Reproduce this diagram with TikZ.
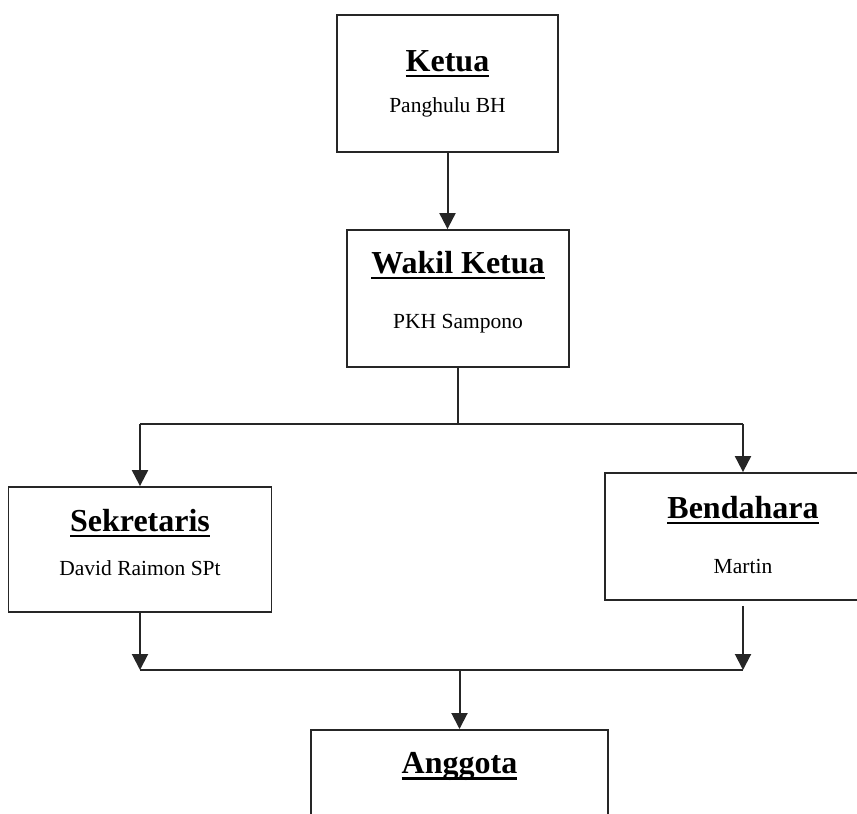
\documentclass[tikz,border=0pt]{standalone}
\usepackage{fontspec}
\setmainfont{Liberation Serif}
\usetikzlibrary{arrows.meta}

% judul jabatan: tebal dengan garis bawah
\newcommand{\judul}[1]{{\fontsize{32}{38}\selectfont\bfseries\setbox0\hbox{#1}\rlap{\rule[-6pt]{\wd0}{2.6pt}}\box0}}

\tikzset{
  kotak/.style={draw=black!85, line width=1.8pt, align=center, inner sep=0pt,
    font=\fontsize{21.5}{25}\selectfont},
  panah/.style={-{Triangle[width=16pt,length=16pt]}, line width=2pt, draw=black!85},
  garis/.style={line width=2pt, draw=black!85}
}

\begin{document}
\begin{tikzpicture}[x=1pt,y=1pt]
  \useasboundingbox (0,0) rectangle (857,-814);
  % kotak jabatan
  \node[kotak, minimum width=221pt, minimum height=137pt] (ketua) at (447.5,-83.5)
    {\judul{Ketua}\\[16pt] Panghulu BH};
  \node[kotak, minimum width=222pt, minimum height=137pt, text depth=18pt] (wakil) at (458,-298.5)
    {\judul{Wakil Ketua}\\[30pt] PKH Sampono};
  \node[kotak, minimum width=263pt, minimum height=125pt, text depth=15pt] (sekretaris) at (140,-549.5)
    {\judul{Sekretaris}\\[19pt] David Raimon SPt};
  \node[kotak, minimum width=276pt, minimum height=127pt, text depth=4pt] (bendahara) at (743,-536.5)
    {\judul{Bendahara}\\[30pt] Martin};
  \node[kotak, anchor=north, minimum width=297pt, text height=44pt, text depth=100pt]
    (anggota) at (459.5,-729) {\judul{Anggota}};
  % penghubung
  \draw[panah] (ketua.south) -- (ketua.south |- wakil.north);
  \draw[garis] (wakil.south) -- ++(0,-56) coordinate (cabang);
  \draw[garis] (sekretaris.north |- cabang) -- (bendahara.north |- cabang);
  \draw[panah] (sekretaris.north |- cabang) -- (sekretaris.north);
  \draw[panah] (bendahara.north |- cabang) -- (bendahara.north);
  \path (anggota.north) ++(0,59) coordinate (gabung);
  \draw[panah] (sekretaris.south) -- (sekretaris.south |- gabung);
  \draw[panah, shorten <=5pt] (bendahara.south) -- (bendahara.south |- gabung);
  \draw[garis] (sekretaris.south |- gabung) -- (bendahara.south |- gabung);
  \draw[panah] (gabung) -- (anggota.north);
\end{tikzpicture}
\end{document}
